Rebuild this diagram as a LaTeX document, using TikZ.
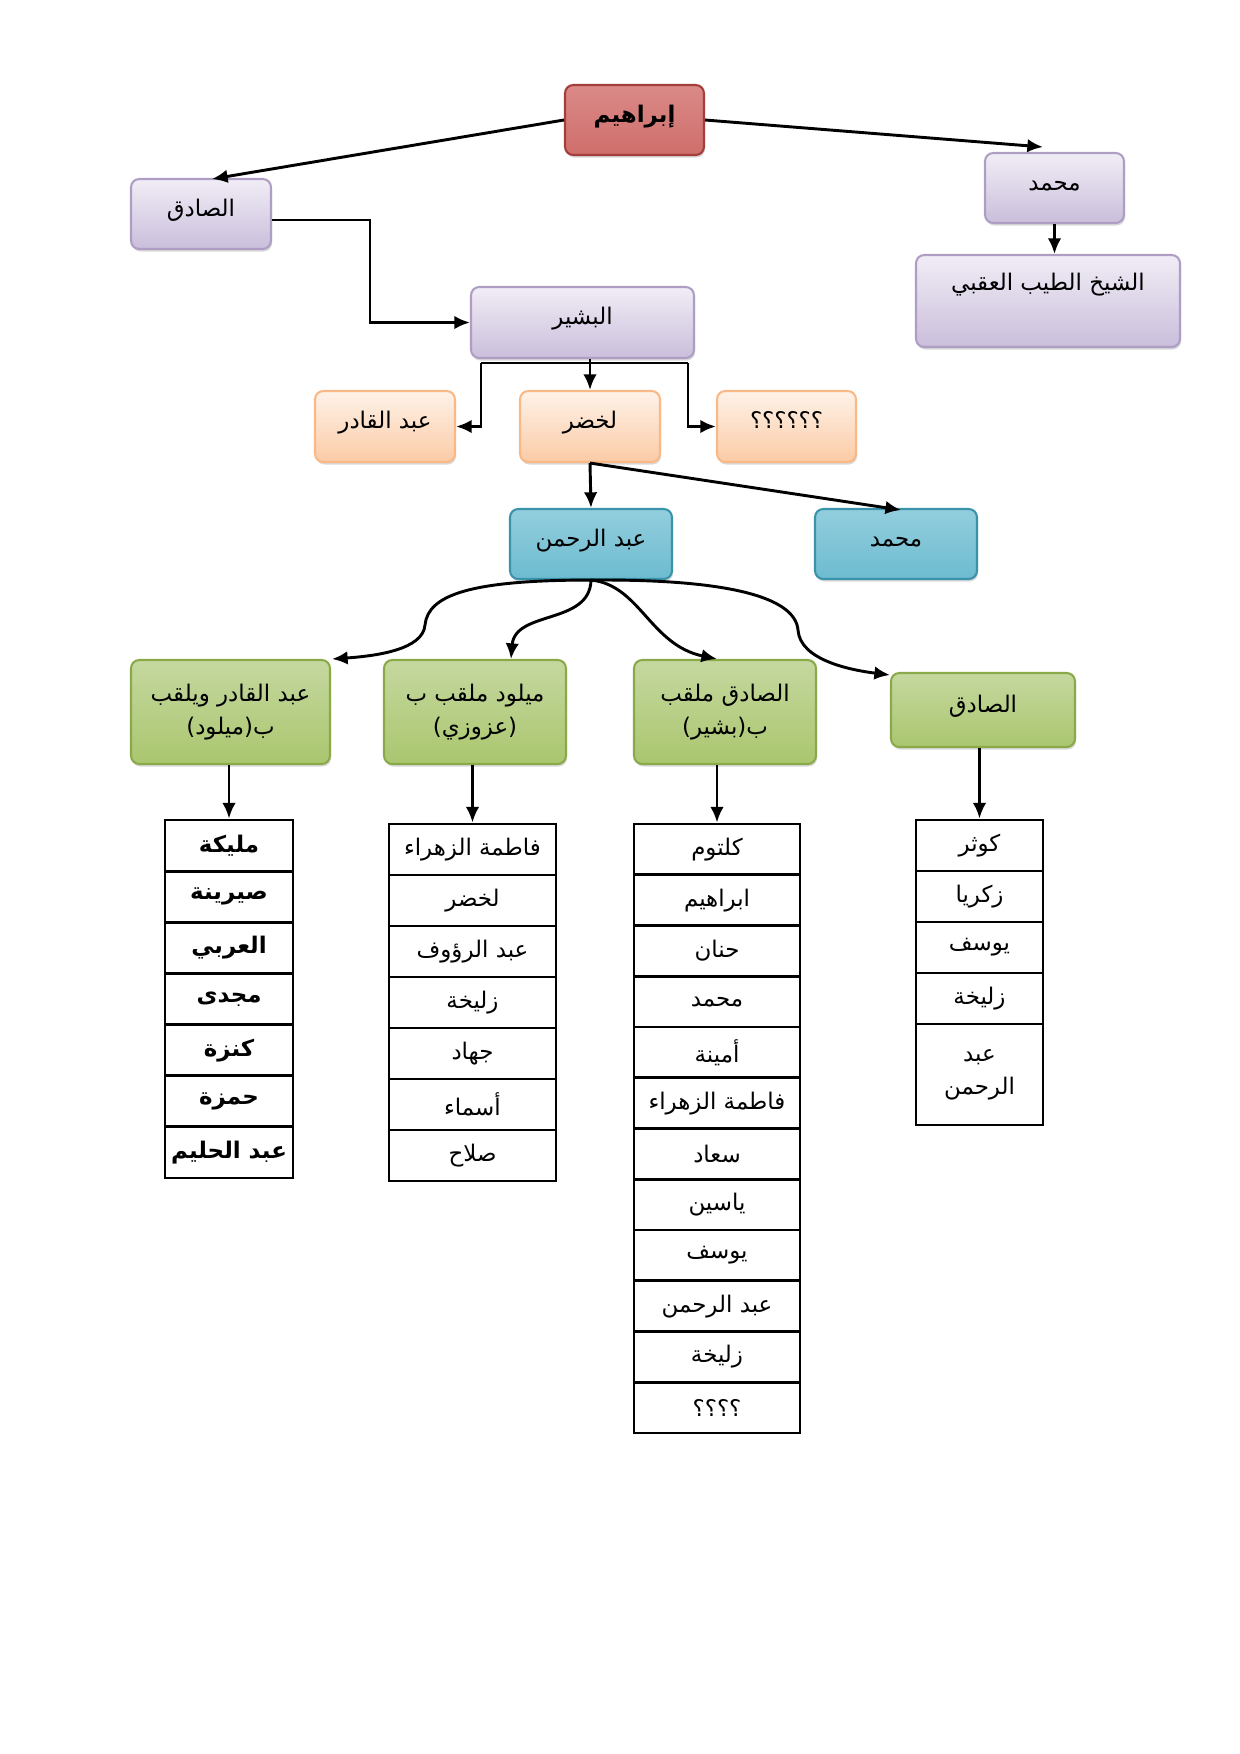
\documentclass[tikz,border=0pt]{standalone}
\usepackage{fontspec}
\TeXXeTstate=1
\newfontfamily\arabicfont[Script=Arabic]{DejaVu Sans}
\usetikzlibrary{arrows.meta,shadows,calc}
\newdimen\pxu \pxu=0.48pt
\newcommand\artx[1]{\beginR #1\endR}
\definecolor{redt}{HTML}{DA8A88}
\definecolor{redm}{HTML}{C0504D}
\definecolor{redb}{HTML}{CF6E6B}
\definecolor{redd}{HTML}{A33E3B}
\definecolor{lavt}{HTML}{F1EDF6}
\definecolor{lavb}{HTML}{CABEDB}
\definecolor{lavd}{HTML}{AE9EC4}
\definecolor{orat}{HTML}{FEF2E8}
\definecolor{orab}{HTML}{FBCBA6}
\definecolor{orad}{HTML}{F8B987}
\definecolor{blut}{HTML}{93CEDD}
\definecolor{blum}{HTML}{4BACC6}
\definecolor{blub}{HTML}{6DBBD0}
\definecolor{blud}{HTML}{3A93AB}
\definecolor{grnt}{HTML}{C5D89F}
\definecolor{grnm}{HTML}{9BBB59}
\definecolor{grnb}{HTML}{AAC66F}
\definecolor{grnd}{HTML}{8AAA4A}
\begin{document}
\begin{tikzpicture}[x=0.48pt,y=-0.48pt,
  sz/.style 2 args={minimum width=#1\pxu, minimum height=#2\pxu},
  txt/.style={font=\arabicfont\fontsize{11}{16}\selectfont},
  raised/.style={text height=10pt, text depth=8pt},
  box/.style={txt, rounded corners=4pt, line width=1pt, align=center, inner sep=0pt,
     drop shadow={shadow xshift=0.5pt,shadow yshift=-1.2pt,opacity=0.3}},
  redbox/.style={box, draw=redd, top color=redt, middle color=redm, bottom color=redb},
  lav/.style={box, draw=lavd, top color=lavt, bottom color=lavb},
  ora/.style={box, draw=orad, top color=orat, bottom color=orab},
  blu/.style={box, draw=blud, top color=blut, middle color=blum, bottom color=blub},
  grn/.style={box, draw=grnd, top color=grnt, middle color=grnm, bottom color=grnb},
  conn/.style={line width=1.4pt, draw=black},
  arr/.style={conn, -{Latex[length=7.5pt,width=6.5pt]}},
  cell/.style={txt, draw, line width=1.4pt, rectangle, inner sep=0pt, align=center},
]
\useasboundingbox (0,0) rectangle (1240,1754);

% top level
\node[redbox, raised, sz={139}{70}, font=\arabicfont\bfseries\fontsize{11}{16}\selectfont] (ib) at (634.5,120) {\artx{إبراهيم}};
\node[lav, raised, sz={140}{70}] (sd) at (201,214) {\artx{الصادق}};
\node[lav, raised, sz={139}{70}] (mh) at (1054.5,188) {\artx{محمد}};
\node[lav, sz={264}{92}, text depth=18pt] (sh) at (1048,301) {\artx{الشيخ الطيب العقبي}};
\node[lav, raised, sz={223}{71}] (bs) at (582.5,322.5) {\artx{البشير}};

% orange level
\node[ora, raised, sz={140}{71}] (ak) at (385,426.5) {\artx{عبد القادر}};
\node[ora, raised, sz={140}{71}] (lk) at (590,426.5) {\artx{لخضر}};
\node[ora, raised, sz={139}{71}] (qq) at (786.5,426.5) {\artx{؟؟؟؟؟؟}};

% blue level
\node[blu, raised, sz={162}{70}] (ar) at (591,544) {\artx{عبد الرحمن}};
\node[blu, raised, sz={162}{70}] (mb) at (896,544) {\artx{محمد}};

% green level
\node[grn, sz={199}{104}] (g1) at (230.5,712) {\artx{عبد القادر ويلقب}\\\artx{ب(ميلود)}};
\node[grn, sz={182}{104}] (g2) at (475,712) {\artx{ميلود ملقب ب}\\\artx{(عزوزي)}};
\node[grn, sz={182}{104}] (g3) at (725,712) {\artx{الصادق ملقب}\\\artx{ب(بشير)}};
\node[grn, raised, sz={184}{74}] (g4) at (983,710) {\artx{الصادق}};

% tables
\foreach \t [count=\i] in {مليكة,صيرينة,العربي,مجدى,كنزة,حمزة,عبد الحليم}
  \node[cell, sz={128}{51.14}, font=\arabicfont\bfseries\fontsize{11}{16}\selectfont] (ta\i) at (229,{820+51.14*(\i-0.5)}) {\artx{\t}};
\foreach \t [count=\i] in {فاطمة الزهراء,لخضر,عبد الرؤوف,زليخة,جهاد,أسماء,صلاح}
  \node[cell, sz={167}{51}] (tb\i) at (472.5,{824+51*(\i-0.5)}) {\artx{\t}};
\foreach \t [count=\i] in {كلتوم,ابراهيم,حنان,محمد,أمينة,فاطمة الزهراء,سعاد,ياسين,يوسف,عبد الرحمن,زليخة,؟؟؟؟}
  \node[cell, sz={166}{50.75}] (tc\i) at (717,{824+50.75*(\i-0.5)}) {\artx{\t}};
\foreach \t [count=\i] in {كوثر,زكريا,يوسف,زليخة}
  \node[cell, sz={127}{51}] (td\i) at (979.5,{820+51*(\i-0.5)}) {\artx{\t}};
\node[cell, sz={127}{101}] (td5) at (979.5,1074.5) {\artx{عبد}\\\artx{الرحمن}};

% connectors
\coordinate (sdin) at (212,179);
\coordinate (mhin) at (1043,147);
\draw[arr] (ib.west) -- (sdin);
\draw[arr] (ib.east) -- (mhin);
\draw[arr] (mh.south) -- (mh.south |- sh.north);
\coordinate (sdk) at (370,220);
\draw[arr] (sd.east |- sdk) -- (sdk) |- (bs.west);
\draw[arr] (lk.north |- bs.south) -- (lk.north);
\coordinate (bl) at (481,363);
\coordinate (br) at (688,363);
\draw[conn] (bl) -- (br);
\draw[arr] (bl) |- (ak.east);
\draw[arr] (br) |- (qq.west);
\draw[arr] (lk.south) -- (ar.north);
\coordinate (mbin) at (901,510);
\draw[arr] (lk.south) -- (mbin);

\coordinate (c1) at (332,659);
\coordinate (c2) at (511,659);
\coordinate (c3) at (717,659);
\coordinate (c4) at (890,675);
\draw[arr] (ar.south) .. controls (470,580) and (428,595) .. (425,625) .. controls (423,650) and (375,656) .. (c1);
\draw[arr] (ar.south) .. controls (590,625) and (515,610) .. (c2);
\draw[arr] (ar.south) .. controls (640,585) and (650,645) .. (c3);
\draw[arr] (ar.south) .. controls (720,579) and (795,595) .. (798,630) .. controls (800,660) and (850,670) .. (c4);

\draw[arr] (ta1.north |- g1.south) -- (ta1.north);
\draw[arr] (tb1.north |- g2.south) -- (tb1.north);
\draw[arr] (tc1.north |- g3.south) -- (tc1.north);
\draw[arr] (td1.north |- g4.south) -- (td1.north);
\end{tikzpicture}
\end{document}
